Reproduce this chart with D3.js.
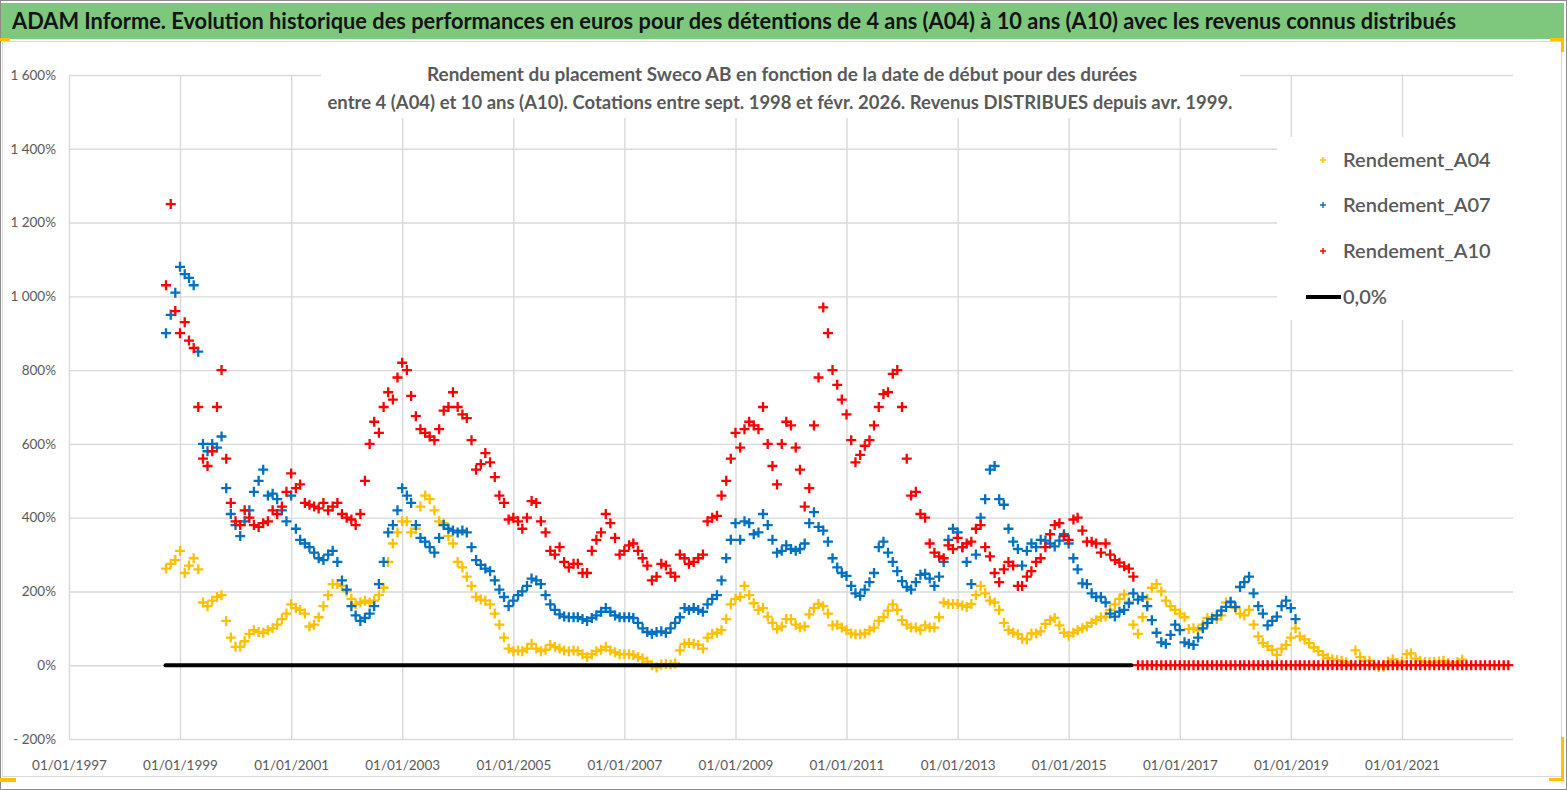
<!DOCTYPE html>
<html>
<head>
<meta charset="utf-8">
<script src="https://cdnjs.cloudflare.com/ajax/libs/d3/7.8.5/d3.min.js"></script>
<style>
  body { margin: 0; background: #fff; }
  svg text { font-family: Lato, "Open Sans", "DejaVu Sans", sans-serif; }
</style>
</head>
<body>
<svg id="chart" width="1567" height="790"></svg>
<script>
// monthly readings, first value = Oct 1998
var firstMonth = "1998-10";

var rendementA04 = [262,275,285,310,250,270,290,260,170,160,175,185,190,120,75,50,50,65,85,95,90,88,95,100,110,125,140,165,155,150,140,105,110,130,160,190,220,220,215,200,180,165,170,175,170,175,190,210,280,330,360,390,
  390,360,370,430,460,450,420,390,385,350,330,280,265,240,215,185,178,175,165,140,110,75,45,38,40,38,45,58,45,38,42,55,50,45,40,38,40,38,30,22,30,38,42,50,40,35,30,30,30,28,22,18,10,0,-6,2,3,2,5,40,58,60,58,
  55,45,75,85,88,95,125,165,180,185,215,190,168,150,155,132,115,98,105,125,125,110,102,105,138,155,166,160,140,108,110,102,95,86,84,84,86,95,102,120,130,148,165,150,122,110,102,102,95,108,102,102,130,170,166,166,166,162,158,166,190,215,195,175,
  170,150,115,95,88,84,72,70,86,86,92,112,122,128,108,88,80,88,95,100,105,115,122,130,132,150,165,180,192,172,110,85,130,180,210,220,200,175,160,150,140,130,98,100,95,110,128,130,125,135,170,170,155,140,135,150,110,78,60,52,42,28,
  45,55,75,100,78,70,60,48,38,28,20,16,14,12,8,2,40,22,12,12,2,-5,-4,10,16,6,10,30,32,18,12,9,8,9,10,12,6,0,8,15];

var rendementA07 = [900,950,1010,1080,1060,1050,1030,850,600,580,600,590,620,480,410,380,350,390,420,470,500,530,460,465,450,420,390,460,370,340,330,320,305,290,285,300,310,280,230,205,160,135,120,128,140,160,220,280,360,380,420,480,
  460,440,380,345,335,320,305,345,380,370,365,360,365,360,320,285,272,262,255,230,205,185,160,175,190,200,215,235,230,220,190,165,150,138,132,130,130,130,125,120,128,135,145,155,145,135,130,130,130,128,115,100,90,85,90,92,88,100,115,130,155,150,155,
  150,145,165,180,190,230,290,340,385,340,390,385,355,360,410,380,340,305,310,325,315,310,315,330,385,415,375,365,335,290,265,250,242,215,195,188,205,225,250,320,335,305,280,255,228,212,205,225,245,248,235,215,240,280,340,370,360,320,280,220,300,400,450,530,
  540,450,435,370,335,315,270,310,330,320,340,338,330,322,338,355,330,290,260,222,220,195,185,185,170,140,132,145,150,168,195,178,185,160,122,88,62,58,82,110,95,62,58,55,75,100,115,125,135,148,158,172,158,212,225,240,195,160,140,108,120,132,160,175,155,125];

var rendementA10 = [1030,1250,960,900,930,880,860,700,560,540,580,700,800,560,440,390,380,420,400,380,375,385,390,420,410,430,470,520,480,490,440,435,430,425,440,420,430,440,410,400,395,380,410,500,600,660,630,700,740,720,780,820,
  800,730,675,640,630,620,610,640,690,700,740,700,680,670,610,530,545,575,550,510,460,440,395,400,390,370,400,445,440,390,360,310,300,320,280,265,275,275,250,250,310,340,360,410,385,345,300,310,325,330,310,290,270,230,240,275,270,250,240,300,290,275,280,
  290,300,390,400,405,460,500,560,630,590,640,660,650,640,700,600,540,490,600,660,650,590,530,430,480,650,780,970,900,800,760,720,680,610,550,570,595,610,650,700,735,740,790,800,700,560,460,470,410,400,330,305,295,290,325,315,345,320,330,335,370,380,320,295,
  250,225,260,280,270,215,215,240,255,280,290,320,355,380,385,350,340,395,400,365,335,335,330,305,330,300,285,278,268,262,240,
  0,0,0,0,0,0,0,0,0,0,0,0,0,0,0,0,0,0,0,0,0,0,0,0,0,0,0,0,0,0,0,0,0,0,0,0,0,0,0,0,0,0,0,0,0,0,0,0,0,0,0,0,0,0,0,0,0,0,0,0,0,0,0,0,0,0,0,0,0,0,0,0,0,0,0,0,0,0,0,0,0];

var zeroLineDates = ["1998-09-28", "2016-02-18"];
var zeroLineValues = [0, 0];

var seriesNames = ["Rendement_A04", "Rendement_A07", "Rendement_A10", "0,0%"];

var yTickValues = [-200, 0, 200, 400, 600, 800, 1000, 1200, 1400, 1600];
var yTickLabels = ["- 200%", "0%", "200%", "400%", "600%", "800%", "1 000%", "1 200%", "1 400%", "1 600%"];
var xTickLabels = ["01/01/1997", "01/01/1999", "01/01/2001", "01/01/2003", "01/01/2005", "01/01/2007", "01/01/2009",
  "01/01/2011", "01/01/2013", "01/01/2015", "01/01/2017", "01/01/2019", "01/01/2021"];

var mainTitle = "ADAM Informe. Evolution historique des performances en euros pour des détentions de 4 ans (A04) à 10 ans (A10) avec les revenus connus distribués";
var subTitle1 = "Rendement du placement Sweco AB en fonction de la date de début pour des durées";
var subTitle2 = "entre 4 (A04) et 10 ans (A10). Cotations entre sept. 1998 et févr. 2026. Revenus DISTRIBUES depuis avr. 1999.";

var colors = ["#FFC000", "#0070C0", "#FF0000", "#000000"];
var gridColor = "#d9d9d9";
var textGray = "#595959";

var svg = d3.select("#chart");
var W = 1567, H = 790;
var plotLeft = 69, plotRight = 1513, plotTop = 75, plotBottom = 739;

// frame, title bar and corner marks
svg.append("rect").attr("x", 0.5).attr("y", 0.5).attr("width", W - 1).attr("height", H - 1)
   .attr("fill", "#fff").attr("stroke", "#8c8c8c");
svg.append("rect").attr("x", 2.5).attr("y", 41.5).attr("width", 1559).attr("height", 735)
   .attr("fill", "#fff").attr("stroke", gridColor);
svg.append("rect").attr("x", 1).attr("y", 3).attr("width", 1563).attr("height", 36).attr("fill", "#7ec87e");
svg.append("text").attr("x", 12).attr("y", 29).attr("font-size", 23).attr("font-weight", "bold")
   .attr("fill", "#141414").attr("textLength", 1444).attr("lengthAdjust", "spacingAndGlyphs").text(mainTitle);

var marks = [[0, 38, 10, 3], [1550, 38, 14, 3], [1561, 38, 3, 14], [1561, 737, 3, 44], [1549, 778, 15, 3], [0, 778, 16, 4]];
svg.selectAll("rect.mark").data(marks).enter().append("rect").attr("class", "mark")
   .attr("x", function (d) { return d[0]; }).attr("y", function (d) { return d[1]; })
   .attr("width", function (d) { return d[2]; }).attr("height", function (d) { return d[3]; })
   .attr("fill", "#FFC000");

var parseDay = d3.timeParse("%Y-%m-%d");
var parseTick = d3.timeParse("%d/%m/%Y");
var start = d3.timeParse("%Y-%m")(firstMonth);
var months = d3.timeMonth.range(start, d3.timeMonth.offset(start, rendementA10.length));

var x = d3.scaleTime().domain([new Date(1997, 0, 1), new Date(2023, 0, 1)]).range([plotLeft, plotRight]);
var y = d3.scaleLinear().domain([-200, 1600]).range([plotBottom, plotTop]);

// axes, ticks doubling as gridlines
var xAxis = d3.axisBottom(x)
  .tickValues(xTickLabels.map(parseTick))
  .tickSize(-(plotBottom - plotTop))
  .tickPadding(21)
  .tickFormat(d3.timeFormat("%d/%m/%Y"));
var gx = svg.append("g").attr("transform", "translate(0," + plotBottom + ")").call(xAxis);

var yAxis = d3.axisLeft(y)
  .tickValues(yTickValues)
  .tickSize(-(plotRight - plotLeft))
  .tickPadding(13)
  .tickFormat(function (d, i) { return yTickLabels[i]; });
var gy = svg.append("g").attr("transform", "translate(" + plotLeft + ",0)").call(yAxis);

[gx, gy].forEach(function (g) {
  g.select(".domain").remove();
  g.selectAll(".tick line").attr("stroke", gridColor).attr("stroke-width", 1.4);
  g.selectAll(".tick text").attr("fill", textGray).attr("font-size", 13.5)
   .style("font-family", "Lato, 'Open Sans', sans-serif");
});

// subtitle box
svg.append("rect").attr("x", 321).attr("y", 59).attr("width", 919).attr("height", 59).attr("fill", "#fff");
svg.append("text").attr("x", 782).attr("y", 81).attr("text-anchor", "middle").attr("font-size", 18)
   .attr("font-weight", "bold").attr("fill", textGray)
   .attr("textLength", 710).attr("lengthAdjust", "spacingAndGlyphs").text(subTitle1);
svg.append("text").attr("x", 780).attr("y", 109).attr("text-anchor", "middle").attr("font-size", 18)
   .attr("font-weight", "bold").attr("fill", textGray)
   .attr("textLength", 905).attr("lengthAdjust", "spacingAndGlyphs").text(subTitle2);

// scatter series
var plus = "M-5,0H5M0,-5V5";
var series = [rendementA04, rendementA07, rendementA10];
series.forEach(function (vals, s) {
  svg.append("g").selectAll("path").data(vals).enter().append("path")
     .attr("d", plus)
     .attr("transform", function (d, i) { return "translate(" + x(months[i]) + "," + y(d) + ")"; })
     .attr("stroke", colors[s]).attr("stroke-width", 2.3).attr("fill", "none");
});

// 0,0% line
var zeroData = zeroLineDates.map(function (d, i) { return { date: parseDay(d), v: zeroLineValues[i] }; });
svg.append("path").datum(zeroData)
   .attr("d", d3.line().x(function (d) { return x(d.date); }).y(function (d) { return y(d.v); }))
   .attr("stroke", colors[3]).attr("stroke-width", 4).attr("stroke-linecap", "round").attr("fill", "none");

// legend
svg.append("rect").attr("x", 1277).attr("y", 137).attr("width", 238).attr("height", 183).attr("fill", "#fff");
var legendY = [160, 205, 251, 297];
var lg = svg.selectAll("g.leg").data(seriesNames).enter().append("g").attr("class", "leg")
   .attr("transform", function (d, i) { return "translate(0," + legendY[i] + ")"; });
lg.each(function (d, i) {
  var g = d3.select(this);
  if (i < 3) {
    g.append("path").attr("d", "M-3,0H3M0,-3V3").attr("transform", "translate(1323,0)")
     .attr("stroke", colors[i]).attr("stroke-width", 1.4);
  } else {
    g.append("line").attr("x1", 1306).attr("x2", 1341).attr("y1", 0).attr("y2", 0)
     .attr("stroke", colors[i]).attr("stroke-width", 4);
  }
  g.append("text").attr("x", 1343).attr("y", 7).attr("font-size", 20).attr("fill", textGray)
   .attr("font-weight", 600).text(d);
});
</script>
</body>
</html>
